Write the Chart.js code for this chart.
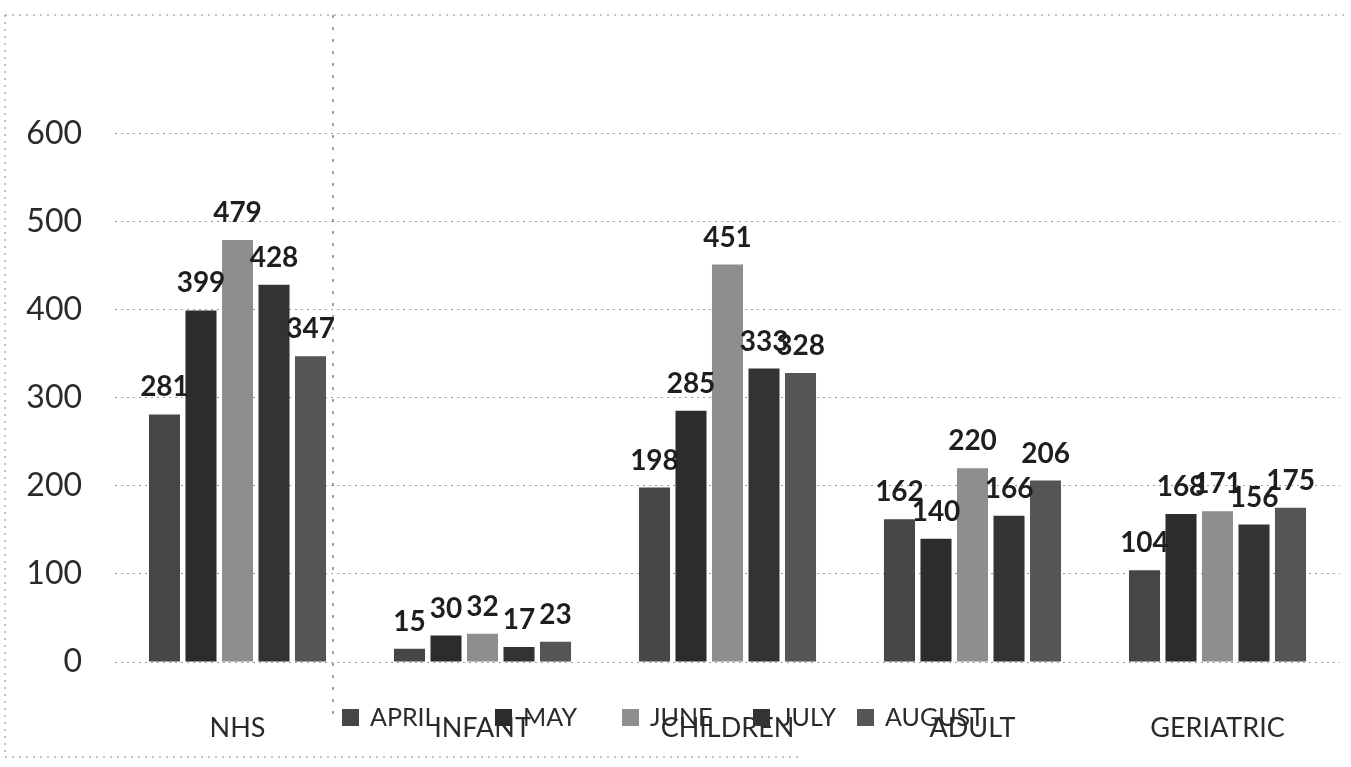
<!DOCTYPE html>
<html>
<head>
<meta charset="utf-8">
<script src="https://cdn.jsdelivr.net/npm/chart.js@4.4.0/dist/chart.umd.min.js"></script>
<style>
  html, body { margin: 0; padding: 0; background: #fff; }
  #wrap { width: 1351px; height: 767px; position: relative; }
</style>
</head>
<body>
<div id="wrap"><canvas id="grafico"></canvas></div>
<script>
// patient counts per ward group, one array per month
const categorias = ['NHS', 'INFANT', 'CHILDREN', 'ADULT', 'GERIATRIC'];
const meses = ['APRIL', 'MAY', 'JUNE', 'JULY', 'AUGUST'];
const april = [281, 15, 198, 162, 104];
const may = [399, 30, 285, 140, 168];
const june = [479, 32, 451, 220, 171];
const july = [428, 17, 333, 166, 156];
const august = [347, 23, 328, 206, 175];
const yTicks = [0, 100, 200, 300, 400, 500, 600];

const cores = ['#464646', '#2c2c2c', '#8e8e8e', '#333333', '#555555'];
const series = [april, may, june, july, august];

const fonte = 'Lato, "Open Sans", "DejaVu Sans", sans-serif';

// value labels above each bar
const rotulos = {
	id: 'rotulos',
	afterDatasetsDraw(chart) {
		const ctx = chart.ctx;
		ctx.save();
		ctx.font = 'bold 28px ' + fonte;
		ctx.fillStyle = '#1e1e1e';
		ctx.textAlign = 'center';
		ctx.textBaseline = 'bottom';
		chart.data.datasets.forEach((ds, i) => {
			chart.getDatasetMeta(i).data.forEach((bar, j) => {
				ctx.fillText(String(ds.data[j]), bar.x, bar.y - 13);
			});
		});
		ctx.restore();
	}
};

// legend row drawn across the category labels, plus the faint frame
const legendaX = [342, 495, 622, 753, 857];
const legenda = {
	id: 'legenda',
	afterDraw(chart) {
		const ctx = chart.ctx;
		ctx.save();
		ctx.strokeStyle = '#8a8a8a';
		ctx.lineWidth = 1;
		ctx.setLineDash([2, 5]);
		ctx.beginPath();
		ctx.moveTo(5, 15); ctx.lineTo(1346, 15);
		ctx.moveTo(5, 15); ctx.lineTo(5, 757);
		ctx.moveTo(5, 757); ctx.lineTo(800, 757);
		ctx.stroke();
		ctx.strokeStyle = '#444';
		ctx.setLineDash([3, 9]);
		ctx.beginPath();
		ctx.moveTo(333, 15); ctx.lineTo(333, 720);
		ctx.stroke();
		ctx.setLineDash([]);

		ctx.font = '25px ' + fonte;
		ctx.textBaseline = 'middle';
		ctx.textAlign = 'left';
		const y = 718;
		chart.data.datasets.forEach((ds, i) => {
			const x = legendaX[i];
			ctx.fillStyle = ds.backgroundColor;
			ctx.fillRect(x, y - 9, 17, 17);
			ctx.fillStyle = '#2a2a2a';
			ctx.fillText(ds.label, x + 28, y);
		});
		ctx.restore();
	}
};

new Chart(document.getElementById('grafico'), {
	type: 'bar',
	data: {
		labels: categorias,
		datasets: meses.map((m, i) => ({
			label: m,
			data: series[i],
			backgroundColor: cores[i],
			borderWidth: 0,
			categoryPercentage: 0.745,
			barPercentage: 0.85
		}))
	},
	options: {
		responsive: true,
		maintainAspectRatio: false,
		animation: false,
		layout: { padding: { left: 0, right: 11, top: 0, bottom: 0 } },
		plugins: {
			legend: { display: false },
			tooltip: { enabled: false }
		},
		scales: {
			y: {
				min: 0,
				max: 692,
				afterBuildTicks: (scale) => {
					scale.ticks = yTicks.map((v) => ({ value: v }));
				},
				afterFit: (scale) => { scale.width = 115; },
				border: { display: false, dash: [2, 4] },
				grid: {
					color: '#9a9a9a',
					lineWidth: 1,
					drawTicks: false
				},
				ticks: {
					padding: 33,
					color: '#2a2a2a',
					font: { family: fonte, size: 32 }
				}
			},
			x: {
				afterFit: (scale) => { scale.height = 105; },
				border: { display: false },
				grid: { display: false, drawTicks: false },
				ticks: {
					padding: 50,
					color: '#2a2a2a',
					font: { family: fonte, size: 27 }
				}
			}
		}
	},
	plugins: [rotulos, legenda]
});
</script>
</body>
</html>
